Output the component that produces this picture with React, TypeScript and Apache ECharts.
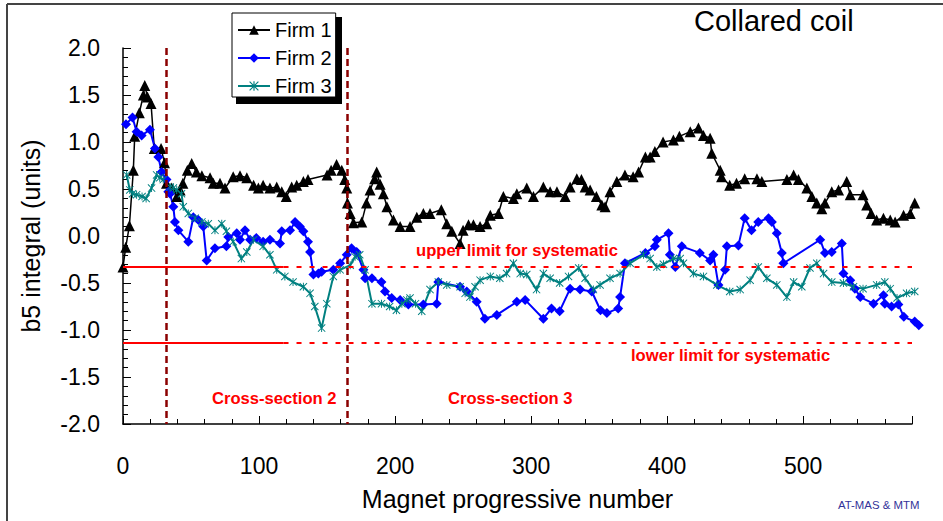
import React, { useEffect, useRef } from "react";
import * as echarts from "echarts";

// ---- data ----
const firm1: [number, number][] = [
  [0, -0.33], [2, -0.12], [4.7, 0.11], [7.6, 0.7], [8.6, 1.06], [12, 1.31], [15, 1.5], [16, 1.6], [18, 1.48],
  [20.6, 1.41], [23, 0.93], [28, 0.93], [30.5, 0.78], [32, 0.56], [35.8, 0.51], [39.5, 0.42], [42, 0.49],
  [44, 0.56], [47.3, 0.7], [50.5, 0.77], [54, 0.68], [58, 0.64], [64, 0.62], [66.4, 0.56], [71.3, 0.56],
  [75, 0.51], [81, 0.63], [86, 0.64], [91, 0.62], [96, 0.54], [99.5, 0.51], [103, 0.54], [108, 0.51],
  [113, 0.52], [116.7, 0.47], [120, 0.42], [124, 0.52], [127.7, 0.54], [132.6, 0.58], [136, 0.6], [150, 0.65],
  [153, 0.7], [157, 0.76], [160.8, 0.7], [163, 0.6], [164.5, 0.51], [165, 0.35], [167, 0.24], [169.4, 0.14],
  [175.5, 0.15], [179, 0.35], [181.6, 0.49], [185, 0.61], [186.5, 0.68], [189, 0.55], [191.4, 0.45], [194, 0.31],
  [198.8, 0.17], [203.7, 0.1], [211, 0.1], [216, 0.2], [220.8, 0.24], [225.7, 0.24], [234, 0.28], [238, 0.13],
  [241.7, 0.05], [247.8, -0.08], [250, 0.06], [254, 0.12], [257.6, 0.12], [262.5, 0.1], [267.4, 0.13], [270, 0.22],
  [276, 0.24], [279.6, 0.42], [287, 0.4], [289.5, 0.45], [296.8, 0.51], [301.7, 0.42], [309, 0.52], [314, 0.47],
  [319, 0.47], [325, 0.42], [328.7, 0.52], [333.6, 0.61], [337, 0.6], [339.7, 0.52], [343.4, 0.49], [348, 0.42],
  [352, 0.33], [354.4, 0.31], [358, 0.47], [363, 0.58], [369, 0.65], [375, 0.63], [379, 0.68], [384, 0.84],
  [387.5, 0.84], [391, 0.9], [397, 1.0], [404.6, 1.02], [409, 1.06], [417, 1.11], [423, 1.15], [426.7, 1.07],
  [431.6, 1.04], [432.8, 0.88], [439, 0.7], [440, 0.63], [446, 0.54], [451, 0.56], [457, 0.61], [466, 0.61],
  [469.6, 0.58], [488, 0.6], [493, 0.65], [496.5, 0.6], [502.7, 0.51], [506.4, 0.42], [510, 0.35], [513.7, 0.29],
  [516, 0.35], [521, 0.47], [526, 0.49], [532, 0.58], [534.6, 0.44], [544, 0.44], [546.7, 0.33], [550, 0.24],
  [554, 0.17], [559, 0.19], [564, 0.17], [567.6, 0.15], [573.8, 0.22], [578.7, 0.24], [582, 0.35],
];

const firm2: [number, number][] = [
  [2.2, 1.19], [7, 1.26], [10, 1.11], [13.7, 1.07], [19.8, 1.13], [23.5, 0.93], [26, 0.84], [28.4, 0.68],
  [32, 0.6], [33.3, 0.47], [34.6, 0.45], [37, 0.31], [38.2, 0.15], [40.7, 0.06], [48, -0.06], [51.7, 0.2],
  [55.4, 0.17], [59, 0.1], [61.5, -0.26], [67.6, -0.13], [76, -0.11], [77.4, -0.01], [83.6, 0.03], [86, -0.04],
  [89.7, 0.06], [93.4, -0.04], [98, -0.02], [103, -0.06], [108, -0.04], [115.4, -0.08], [116.7, 0.05],
  [122.8, 0.06], [126.5, 0.15], [130, 0.1], [132.6, 0.05], [136, -0.06], [137.5, -0.17], [140, -0.41],
  [143.6, -0.4], [146, -0.38], [154.6, -0.36], [159.6, -0.29], [164.5, -0.2], [168, -0.13], [171.8, -0.17],
  [176.7, -0.36], [178, -0.45], [183, -0.45], [190, -0.49], [192.6, -0.59], [197.5, -0.66], [203.7, -0.68],
  [209.8, -0.73], [220.8, -0.73], [230.6, -0.72], [231.8, -0.49], [247.8, -0.54], [252.7, -0.59], [260, -0.7],
  [266, -0.88], [274.8, -0.84], [289.5, -0.7], [295.6, -0.68], [309, -0.88], [315, -0.77], [321, -0.8],
  [328.7, -0.56], [336, -0.57], [344.6, -0.59], [351, -0.79], [355.7, -0.82], [364, -0.77], [365.4, -0.65],
  [369, -0.29], [384, -0.18], [391, -0.11], [392.4, -0.04], [401, 0.03], [402, -0.2], [406, -0.33],
  [410.8, -0.11], [424, -0.18], [431.6, -0.26], [434, -0.2], [437.7, -0.52], [442.6, -0.36], [443.9, -0.11],
  [452.4, -0.1], [457, 0.19], [462, 0.06], [467, 0.15], [474.5, 0.19], [477, 0.15], [480.6, 0.03],
  [484.3, -0.18], [485.5, -0.29], [512.5, -0.04], [516, -0.18], [521, -0.17], [528.4, -0.08], [529.6, -0.4],
  [534.6, -0.47], [538, -0.56], [542, -0.65], [551.7, -0.72], [559, -0.63], [560, -0.72], [565, -0.75],
  [570, -0.73], [574, -0.86], [582, -0.91], [585, -0.95],
];

const firm3: [number, number][] = [
  [2.7, 0.65], [5, 0.49], [7, 0.45], [10, 0.44], [14, 0.42], [17, 0.4], [21, 0.51], [24.7, 0.65], [27, 0.62],
  [29.6, 0.6], [34.6, 0.52], [37, 0.51], [39.5, 0.49], [43, 0.45], [44.3, 0.31], [48, 0.24], [53, 0.19],
  [58, 0.15], [62.7, 0.13], [67.6, 0.06], [72.6, 0.13], [76, 0.05], [81, -0.06], [87, -0.24], [91, -0.17],
  [96, -0.04], [103, -0.11], [108, -0.2], [113, -0.36], [119, -0.43], [125, -0.49], [132.6, -0.54],
  [137.5, -0.61], [141, -0.75], [146, -0.98], [149.8, -0.72], [154.6, -0.43], [159.6, -0.36], [167, -0.31],
  [170.6, -0.22], [174, -0.2], [178, -0.36], [183, -0.72], [190, -0.72], [196, -0.75], [201, -0.79],
  [205, -0.72], [208.6, -0.68], [211, -0.66], [215, -0.72], [219.6, -0.8], [225.7, -0.57], [231.8, -0.49],
  [238, -0.52], [247.8, -0.54], [251.5, -0.61], [255, -0.65], [258.8, -0.54], [262.5, -0.47], [270, -0.43],
  [277, -0.45], [282, -0.4], [287, -0.29], [292, -0.4], [296.8, -0.41], [304, -0.57], [309, -0.4], [314, -0.45],
  [321, -0.5], [327.5, -0.43], [335, -0.34], [339.7, -0.45], [345.8, -0.57], [350.7, -0.52], [358, -0.45],
  [365.4, -0.4], [372.8, -0.29], [382.6, -0.2], [387.5, -0.24], [392.4, -0.33], [397.3, -0.3], [404.6, -0.24],
  [409.6, -0.24], [412, -0.29], [419.3, -0.4], [426.7, -0.43], [436.5, -0.52], [446, -0.59], [453.7, -0.57],
  [461, -0.47], [467, -0.33], [473.3, -0.45], [480.6, -0.52], [488, -0.65], [493, -0.49], [499, -0.54],
  [505, -0.34], [510, -0.29], [515, -0.4], [521, -0.49], [529.6, -0.5], [537, -0.54], [544, -0.56],
  [554, -0.52], [560, -0.49], [564, -0.56], [569, -0.66], [576, -0.61], [582, -0.59],
];

const seriesNames = ["Firm 1", "Firm 2", "Firm 3"];
const crossSectionBounds = [32, 165];
const upperLimit = -0.33;
const lowerLimit = -1.14;
const solidLimitEnd = 118;
const dashedLimitEnd = 580;
const xMin = 0;
const xMax = 580;
const yMin = -2;
const yMax = 2;

const FONT = "Liberation Sans, Arial, sans-serif";
const ASTERISK =
  "path://M4.4,0H5.6V10H4.4Z M0,0.85L0.85,0L10,9.15L9.15,10Z M9.15,0L10,0.85L0.85,10L0,9.15Z";

export default function App() {
  const ref = useRef<HTMLDivElement>(null);

  useEffect(() => {
    document.body.style.margin = "0";
    if (!ref.current) return;
    const chart = echarts.init(ref.current, undefined, { renderer: "svg" });

    const redText = (text: string, x: number, y: number) => ({
      type: "text",
      left: x,
      top: y,
      z: 20,
      style: { text, fill: "#FF0000", font: `bold 16.6px ${FONT}` },
    });

    chart.setOption({
      animation: false,
      backgroundColor: "#fff",
      grid: { left: 123, top: 48, right: 31, bottom: 97, containLabel: false },
      legend: {
        data: seriesNames,
        orient: "vertical",
        left: 232,
        top: 13,
        padding: [7, 4, 1, 5],
        itemWidth: 32,
        itemHeight: 12,
        itemGap: 8,
        backgroundColor: "#fff",
        borderColor: "#000",
        borderWidth: 1,
        z: 10,
        textStyle: { fontFamily: FONT, fontSize: 20, color: "#000", lineHeight: 20 },
      },
      xAxis: {
        type: "value",
        min: xMin,
        max: xMax,
        interval: 100,
        name: "Magnet progressive number",
        nameLocation: "middle",
        nameGap: 62,
        nameTextStyle: { fontFamily: FONT, fontSize: 25, color: "#000" },
        axisLine: { show: true, onZero: false, lineStyle: { color: "#000", width: 1.5 } },
        axisTick: { show: true, inside: true, length: 8, lineStyle: { color: "#000" } },
        minorTick: { show: true, splitNumber: 5, length: 5, lineStyle: { color: "#000" } },
        axisLabel: {
          fontFamily: FONT,
          fontSize: 23,
          color: "#000",
          margin: 30,
          formatter: (v: number) => (v % 100 === 0 ? String(v) : ""),
        },
        splitLine: { show: false },
      },
      yAxis: {
        type: "value",
        min: yMin,
        max: yMax,
        interval: 0.5,
        name: "b5 integral (units)",
        nameLocation: "middle",
        nameGap: 80,
        nameTextStyle: { fontFamily: FONT, fontSize: 25, color: "#000" },
        axisLine: { show: true, onZero: false, lineStyle: { color: "#000", width: 1.5 } },
        axisTick: { show: true, inside: true, length: 8, lineStyle: { color: "#000" } },
        minorTick: { show: true, splitNumber: 5, length: 5, lineStyle: { color: "#000" } },
        axisLabel: {
          fontFamily: FONT,
          fontSize: 23,
          color: "#000",
          margin: 23,
          formatter: (v: number) => v.toFixed(1),
        },
        splitLine: { show: false },
      },
      graphic: [
        { type: "line", shape: { x1: 7, y1: 4, x2: 943, y2: 4 }, style: { stroke: "#444", lineWidth: 2 }, z: 0 },
        { type: "line", shape: { x1: 7, y1: 4, x2: 7, y2: 521 }, style: { stroke: "#444", lineWidth: 2 }, z: 0 },
        { type: "rect", shape: { x: 236, y: 17, width: 106, height: 87 }, style: { fill: "#000" }, z: 5 },
        {
          type: "text",
          left: 694,
          top: 6,
          z: 20,
          style: { text: "Collared coil", fill: "#000", font: `29px ${FONT}` },
        },
        redText("upper limit for systematic", 416, 242),
        redText("lower limit for systematic", 631, 347),
        redText("Cross-section 2", 212, 390),
        redText("Cross-section 3", 448, 390),
        {
          type: "text",
          left: 838,
          top: 499,
          z: 20,
          style: { text: "AT-MAS & MTM", fill: "#333399", font: `11.4px ${FONT}` },
        },
      ],
      series: [
        {
          name: "cross-sections",
          type: "line",
          data: [],
          silent: true,
          markLine: {
            silent: true,
            symbol: "none",
            label: { show: false },
            lineStyle: { color: "#8B0000", width: 2.5, type: [7, 4] },
            data: crossSectionBounds.map((x) => [{ coord: [x, yMax] }, { coord: [x, yMin] }]),
          },
        },
        {
          name: "limits-solid",
          type: "line",
          data: [],
          silent: true,
          markLine: {
            silent: true,
            symbol: "none",
            label: { show: false },
            lineStyle: { color: "#FF0000", width: 2, type: "solid" },
            data: [upperLimit, lowerLimit].map((y) => [{ coord: [xMin, y] }, { coord: [solidLimitEnd, y] }]),
          },
        },
        {
          name: "limits-dashed",
          type: "line",
          data: [],
          silent: true,
          markLine: {
            silent: true,
            symbol: "none",
            label: { show: false },
            lineStyle: { color: "#FF0000", width: 2, type: [5, 8] },
            data: [upperLimit, lowerLimit].map((y) => [{ coord: [solidLimitEnd, y] }, { coord: [dashedLimitEnd, y] }]),
          },
        },
        {
          name: seriesNames[0],
          type: "line",
          data: firm1,
          clip: false,
          symbol: "triangle",
          symbolSize: 11,
          itemStyle: { color: "#000" },
          lineStyle: { color: "#000", width: 1.5 },
        },
        {
          name: seriesNames[1],
          type: "line",
          data: firm2,
          clip: false,
          symbol: "diamond",
          symbolSize: 10,
          itemStyle: { color: "#0000FF" },
          lineStyle: { color: "#0000FF", width: 2 },
        },
        {
          name: seriesNames[2],
          type: "line",
          data: firm3,
          clip: false,
          symbol: ASTERISK,
          symbolSize: 8,
          itemStyle: { color: "#008080" },
          lineStyle: { color: "#008080", width: 2 },
        },
      ],
    });

    return () => chart.dispose();
  }, []);

  return <div ref={ref} style={{ width: 943, height: 521 }} />;
}
